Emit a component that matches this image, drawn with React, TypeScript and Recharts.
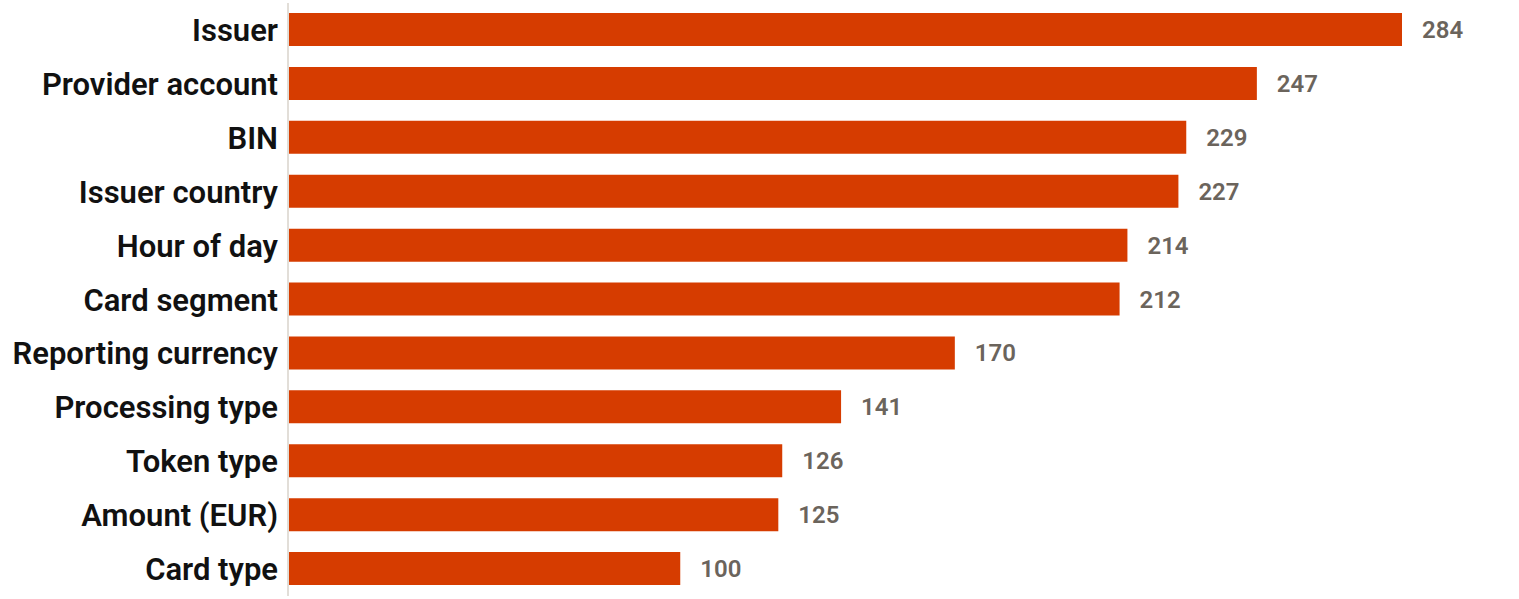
import { Bar, BarChart, LabelList, XAxis, YAxis } from "recharts";

const categories = [
  "Issuer",
  "Provider account",
  "BIN",
  "Issuer country",
  "Hour of day",
  "Card segment",
  "Reporting currency",
  "Processing type",
  "Token type",
  "Amount (EUR)",
  "Card type",
];
const counts = [284, 247, 229, 227, 214, 212, 170, 141, 126, 125, 100];

const data = categories.map((name, i) => ({ name, value: counts[i] }));

const FONT = "Roboto, 'Liberation Sans', sans-serif";

export default function App() {
  return (
    <div style={{ position: "absolute", left: 0, top: 0, background: "#fff" }}>
      <BarChart
        width={1519}
        height={599}
        data={data}
        layout="vertical"
        margin={{ top: 3, right: 117, bottom: 3, left: 0 }}
      >
        <XAxis type="number" domain={[0, 284]} hide />
        <YAxis
          type="category"
          dataKey="name"
          width={288}
          tickLine={false}
          axisLine={{ stroke: "#e2ded8", strokeWidth: 2 }}
          tickMargin={4}
          interval={0}
          tick={{ fontSize: 31, fontWeight: 600, fill: "#111", fontFamily: FONT }}
        />
        <Bar dataKey="value" fill="#d63c00" barSize={33} isAnimationActive={false}>
          <LabelList
            dataKey="value"
            position="right"
            offset={20}
            style={{ fontSize: 24, fontWeight: 600, fill: "#6b645c", fontFamily: FONT }}
          />
        </Bar>
      </BarChart>
    </div>
  );
}
